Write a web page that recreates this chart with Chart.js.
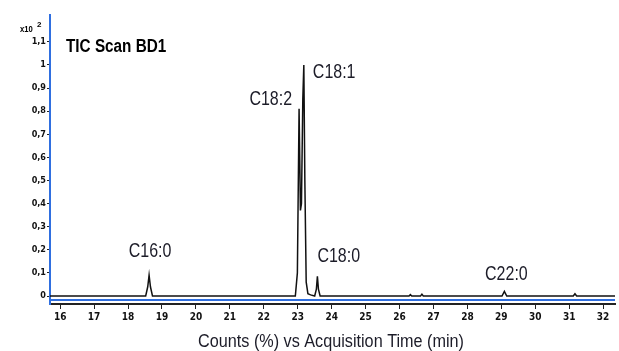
<!DOCTYPE html>
<html>
<head>
<meta charset="utf-8">
<script src="https://cdn.jsdelivr.net/npm/chart.js@4.4.0/dist/chart.umd.min.js"></script>
<style>
  html, body { margin: 0; padding: 0; background: #fff; }
  #wrap { width: 619px; height: 351px; position: relative; }
</style>
</head>
<body>
<div id="wrap"><canvas id="chart"></canvas></div>
<script>
// retention time (min) and relative counts (x10^2)
let times = [15.7, 18.52, 18.58, 18.62, 18.66, 18.72,
    22.93, 22.99, 23.04, 23.08, 23.11, 23.15, 23.18, 23.21, 23.25, 23.3, 23.38,
    23.5, 23.55, 23.58, 23.61, 23.66,
    26.28, 26.32, 26.36, 26.62, 26.66, 26.7,
    29.02, 29.09, 29.16, 31.12, 31.17, 31.22, 32.4]
let counts = [0, 0, 0.04, 0.09, 0.04, 0,
    0, 0.1, 0.81, 0.37, 0.4, 0.85, 1.0, 0.5, 0.06, 0.01, 0.005,
    0, 0.03, 0.085, 0.03, 0,
    0, 0.006, 0, 0, 0.008, 0,
    0, 0.02, 0, 0, 0.01, 0, 0]

let xTicks = [16, 17, 18, 19, 20, 21, 22, 23, 24, 25, 26, 27, 28, 29, 30, 31, 32]
let yTicks = [0, 0.1, 0.2, 0.3, 0.4, 0.5, 0.6, 0.7, 0.8, 0.9, 1, 1.1]
let yTickLabels = ['0', '0,1', '0,2', '0,3', '0,4', '0,5', '0,6', '0,7', '0,8', '0,9', '1', '1,1']

let peakNames = ['C16:0', 'C18:2', 'C18:1', 'C18:0', 'C22:0']
let peakTimes = [18.62, 23.04, 23.18, 23.58, 29.09]
let peakCounts = [0.09, 0.81, 1.0, 0.085, 0.02]

// pixel offsets of each label baseline from its peak apex, and alignment
const labelStyle = [
    { dx: 1, dy: -18, align: 'center' },
    { dx: -7, dy: -4, align: 'right' },
    { dx: 9, dy: 13, align: 'left' },
    { dx: 0, dy: -14, align: 'left' },
    { dx: 2, dy: -11, align: 'center' },
]

const points = times.map((t, i) => ({ x: t, y: counts[i] }))

const sans = '"Liberation Sans", Arial, sans-serif'
const cond = '"DejaVu Sans Condensed", "Liberation Sans", sans-serif'

// draw text squeezed horizontally (the original uses a narrow font)
function squeezed(c, text, x, y, sx, align) {
    c.save()
    c.translate(x, y)
    c.scale(sx, 1)
    c.textAlign = align
    c.fillText(text, 0, 0)
    c.restore()
}

const overlay = {
    id: 'overlay',
    afterDraw(chart) {
        const c = chart.ctx
        const a = chart.chartArea
        const xs = chart.scales.x
        const ys = chart.scales.y
        c.save()
        // blue frame line just above the x axis
        c.strokeStyle = '#2f6fe0'
        c.lineWidth = 2
        c.beginPath()
        c.moveTo(a.left, a.bottom - 4)
        c.lineTo(a.right, a.bottom - 4)
        c.stroke()

        // peak labels
        c.fillStyle = '#1c1c28'
        c.font = '20px ' + sans
        c.textBaseline = 'alphabetic'
        peakNames.forEach((name, i) => {
            const s = labelStyle[i]
            squeezed(c, name, xs.getPixelForValue(peakTimes[i]) + s.dx, ys.getPixelForValue(peakCounts[i]) + s.dy, 0.8, s.align)
        })

        // title
        c.fillStyle = '#000'
        c.font = 'bold 18px ' + sans
        squeezed(c, 'TIC Scan BD1', 66, 52, 0.85, 'left')

        // exponent
        c.font = 'bold 9px ' + sans
        squeezed(c, 'x10', 20, 32, 0.85, 'left')
        c.font = 'bold 8px ' + sans
        c.fillText('2', 37, 27)

        // axis title
        c.font = '18px ' + sans
        c.fillStyle = '#1c1c28'
        squeezed(c, 'Counts (%) vs Acquisition Time (min)', 331, 347, 0.9, 'center')
        c.restore()
    }
}

const ctx = document.getElementById('chart').getContext('2d')
const chromChart = new Chart(ctx, {
    type: 'scatter',
    data: {
        datasets: [{
            data: points,
            showLine: true,
            borderColor: '#111',
            borderWidth: 1.5,
            pointRadius: 0,
            tension: 0,
        }]
    },
    options: {
        responsive: true,
        maintainAspectRatio: false,
        animation: false,
        layout: { padding: { top: 15, right: 4, left: 0, bottom: 0 } },
        plugins: {
            legend: { display: false },
            tooltip: { enabled: false },
        },
        scales: {
            x: {
                type: 'linear',
                min: 15.7,
                max: 32.35,
                afterFit: (s) => { s.height = 47 },
                afterBuildTicks: (s) => { s.ticks = xTicks.map(v => ({ value: v })) },
                border: { color: '#222', width: 2 },
                grid: { drawOnChartArea: false, drawTicks: true, tickLength: 5, color: '#222' },
                ticks: {
                    color: '#111',
                    font: { family: cond, size: 10, weight: 'bold' },
                    padding: 2,
                    maxRotation: 0,
                    callback: (v) => v,
                },
            },
            y: {
                min: -0.0346,
                max: 1.216,
                afterFit: (s) => { s.width = 50 },
                afterBuildTicks: (s) => { s.ticks = yTicks.map(v => ({ value: v })) },
                border: { color: '#2f6fe0', width: 2 },
                grid: { drawOnChartArea: false, drawTicks: true, tickLength: 3, color: '#222' },
                ticks: {
                    color: '#111',
                    font: { family: cond, size: 9, weight: 'bold' },
                    padding: 1,
                    callback: (v) => {
                        const i = yTicks.findIndex(t => Math.abs(t - v) < 1e-6)
                        return i >= 0 ? yTickLabels[i] : ''
                    },
                },
            },
        },
    },
    plugins: [overlay],
})
</script>
</body>
</html>
